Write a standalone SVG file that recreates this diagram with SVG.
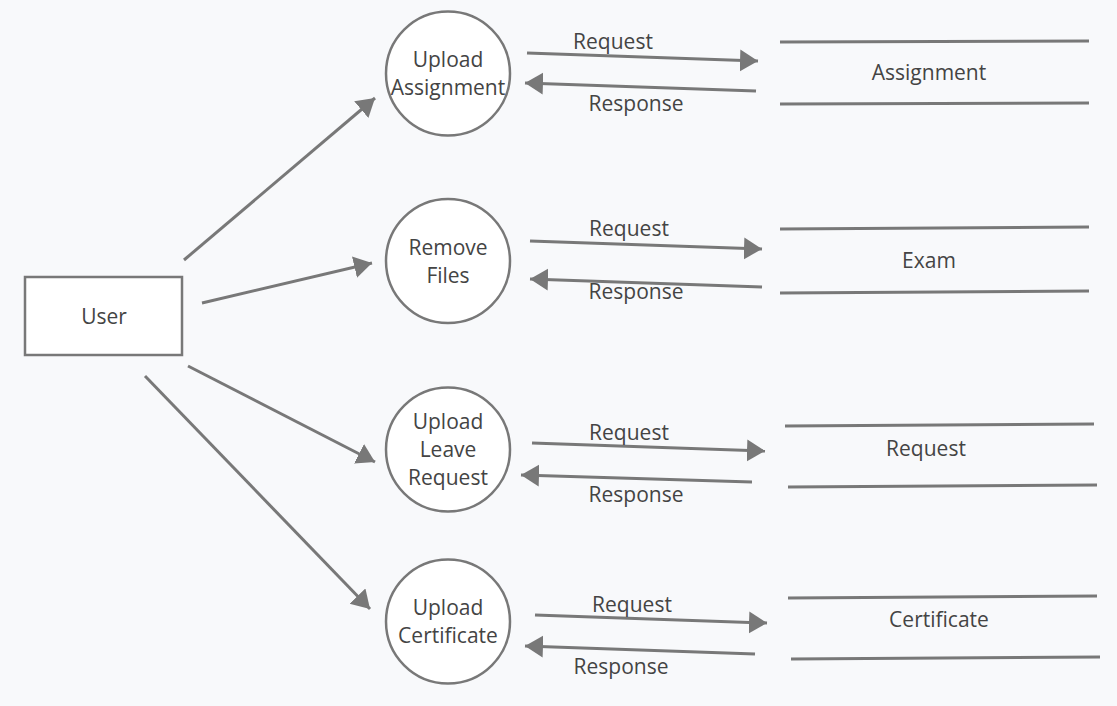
<svg xmlns="http://www.w3.org/2000/svg" width="1117" height="706" viewBox="0 0 1117 706">
<style>
.bg{fill:#f8f9fb}
.proc{fill:#ffffff;stroke:#787878;stroke-width:2.5}
.ent{fill:#ffffff;stroke:#787878;stroke-width:2.5}
.edge{stroke:#787878;stroke-width:3;fill:none;marker-end:url(#ah)}
.store{stroke:#787878;stroke-width:3;fill:none}
text{font-family:"Open Sans","Noto Sans","Liberation Sans",sans-serif;font-size:21px;fill:#444;text-anchor:middle;dominant-baseline:central}
</style>
<defs>
<marker id="ah" markerUnits="userSpaceOnUse" markerWidth="20" markerHeight="24" refX="18" refY="11" orient="auto">
<path d="M0,0 L18,11 L0,22 z" fill="#787878"/>
</marker>
</defs>
<rect class="bg" x="0" y="0" width="1117" height="706"/>
<g id="connectors">
<line class="edge" x1="184" y1="260" x2="375" y2="98"/>
<line class="edge" x1="202" y1="303" x2="372" y2="263"/>
<line class="edge" x1="188" y1="366" x2="375" y2="462"/>
<line class="edge" x1="145" y1="376" x2="370" y2="609"/>
<line class="edge" x1="527" y1="53" x2="758" y2="61"/>
<line class="edge" x1="756" y1="91" x2="525" y2="83"/>
<line class="edge" x1="530" y1="241" x2="762" y2="249"/>
<line class="edge" x1="762" y1="287" x2="530" y2="279"/>
<line class="edge" x1="532" y1="443" x2="765" y2="451"/>
<line class="edge" x1="752" y1="482" x2="521" y2="475"/>
<line class="edge" x1="535" y1="615" x2="767" y2="623"/>
<line class="edge" x1="755" y1="654" x2="525" y2="646"/>
<text x="613" y="41">Request</text>
<text x="636" y="103">Response</text>
<text x="629" y="228">Request</text>
<text x="636" y="291">Response</text>
<text x="629" y="432">Request</text>
<text x="636" y="494">Response</text>
<text x="632" y="604">Request</text>
<text x="621" y="666">Response</text>
</g>
<g id="user">
<rect class="ent" x="25" y="277" width="157" height="78"/>
<text x="104" y="316">User</text>
</g>
<g id="upload-assignment">
<circle class="proc" cx="448" cy="73.5" r="62"/>
<text x="448" y="59">Upload</text>
<text x="448" y="87">Assignment</text>
</g>
<g id="remove-files">
<circle class="proc" cx="448" cy="261" r="62"/>
<text x="448" y="247">Remove</text>
<text x="448" y="275">Files</text>
</g>
<g id="upload-leave-request">
<circle class="proc" cx="448" cy="449.5" r="62"/>
<text x="448" y="421">Upload</text>
<text x="448" y="449">Leave</text>
<text x="448" y="477">Request</text>
</g>
<g id="upload-certificate">
<circle class="proc" cx="448" cy="621.5" r="62"/>
<text x="448" y="607">Upload</text>
<text x="448" y="635">Certificate</text>
</g>
<g id="store-assignment">
<line class="store" x1="780" y1="42" x2="1089" y2="41"/>
<line class="store" x1="780" y1="104" x2="1089" y2="103"/>
<text x="929" y="72">Assignment</text>
</g>
<g id="store-exam">
<line class="store" x1="780" y1="229" x2="1089" y2="227"/>
<line class="store" x1="780" y1="293" x2="1089" y2="291"/>
<text x="929" y="260">Exam</text>
</g>
<g id="store-request">
<line class="store" x1="785" y1="426" x2="1094" y2="424"/>
<line class="store" x1="788" y1="487" x2="1097" y2="485"/>
<text x="926" y="448">Request</text>
</g>
<g id="store-certificate">
<line class="store" x1="788" y1="598" x2="1097" y2="596"/>
<line class="store" x1="791" y1="659" x2="1100" y2="657"/>
<text x="939" y="619">Certificate</text>
</g>
</svg>
